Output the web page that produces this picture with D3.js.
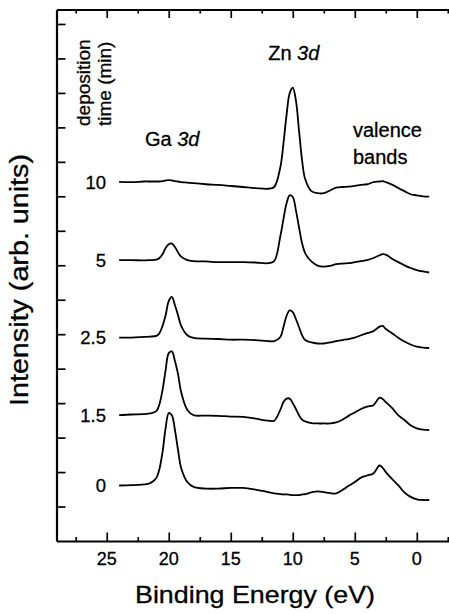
<!DOCTYPE html>
<html>
<head>
<meta charset="utf-8">
<script src="https://cdnjs.cloudflare.com/ajax/libs/d3/7.8.5/d3.min.js"></script>
<style>
	body{margin:0;background:#fff;}
	svg{display:block;font-family:"Liberation Sans",Arial,Helvetica,sans-serif;}
	svg text{fill:#000;stroke:#000;stroke-width:0.3px;}
</style>
</head>
<body>
<div id="chart"></div>
<script>
// binding energy grid (eV) shared by all spectra
var energies=[24,23,22,21.5,21,20.75,20.5,20.25,20,19.75,19.5,19.25,19,18.5,18,17,16,15,14,13,
	12,11.5,11,10.75,10.5,10.25,10,9.75,9.5,9.25,9,8.5,8,7.5,7,6.5,6,5.5,5,4.5,4,3.5,3,2.75,2.5,2,1.5,1,0.5,0,-0.5,-1]

// intensities (arb. units, already stacked) per deposition time
var time0=[1.61,1.62,1.64,1.68,1.83,2.09,2.58,3.28,3.71,3.65,3.22,2.64,2.12,1.71,1.57,1.52,1.52,1.54,1.54,1.49,
	1.42,1.38,1.36,1.35,1.35,1.34,1.33,1.33,1.33,1.35,1.36,1.41,1.44,1.42,1.39,1.38,1.48,1.60,1.71,1.84,
	1.90,1.96,2.19,2.12,2.00,1.80,1.62,1.41,1.28,1.21,1.19,1.19]
var time1_5=[3.65,3.67,3.68,3.70,3.77,3.97,4.38,4.96,5.45,5.50,5.22,4.84,4.32,3.80,3.65,3.64,3.63,3.61,3.60,3.55,
	3.49,3.49,3.81,4.03,4.13,4.13,4.00,3.83,3.65,3.52,3.47,3.42,3.41,3.41,3.41,3.44,3.52,3.63,3.73,3.83,
	3.90,3.94,4.16,4.12,4.03,3.86,3.65,3.51,3.36,3.27,3.23,3.22]
var time2_5=[5.90,5.90,5.92,5.93,5.95,6.03,6.24,6.55,6.96,7.08,6.84,6.55,6.24,5.97,5.89,5.87,5.86,5.84,5.84,5.83,
	5.80,5.80,5.92,6.21,6.53,6.69,6.64,6.44,6.21,5.97,5.83,5.76,5.73,5.73,5.76,5.80,5.83,5.86,5.90,5.97,
	6.03,6.09,6.22,6.24,6.15,6.03,5.90,5.79,5.70,5.64,5.61,5.60]
var time5=[8.15,8.15,8.14,8.15,8.16,8.21,8.32,8.50,8.61,8.63,8.53,8.37,8.25,8.15,8.12,8.11,8.09,8.09,8.09,8.08,
	8.06,8.12,8.85,9.34,9.80,10.03,9.98,9.60,9.11,8.64,8.35,8.11,7.99,7.96,7.98,8.03,8.05,8.06,8.09,8.12,
	8.15,8.21,8.29,8.32,8.31,8.19,8.09,8.00,7.92,7.86,7.82,7.79]
var time10=[10.42,10.41,10.43,10.43,10.43,10.43,10.44,10.46,10.47,10.46,10.44,10.43,10.41,10.40,10.38,10.35,10.33,10.30,10.27,10.24,
	10.22,10.27,10.85,11.54,12.36,12.99,13.15,12.79,11.92,11.05,10.50,10.15,10.09,10.09,10.17,10.25,10.27,10.28,10.30,10.33,
	10.35,10.41,10.43,10.44,10.41,10.34,10.24,10.15,10.06,10.03,10.00,9.99]

var seriesLabels=['0','1.5','2.5','5','10']
var xTicks=[25,20,15,10,5,0]
var xMinorTicks=[27.5,22.5,17.5,12.5,7.5,2.5,-2.5]
var yTicks=[1,2,3,4,5,6,7,8,9,10,11,12,13,14,15]

var chart={
	dimens:{width:449,height:614,left:56.5,top:9.5,bottom:541,right:454},
	draw:function(){
		var dm=chart.dimens
		var series=[time0,time1_5,time2_5,time5,time10]

		var svg=d3.select('#chart').append('svg')
			.attr('width',dm.width)
			.attr('height',dm.height)

		// reversed energy axis, like XPS plots
		var x=d3.scaleLinear().domain([29.05,-3]).range([dm.left,dm.right])
		var y=d3.scaleLinear().domain([0,15.42]).range([dm.bottom,dm.top])

		function styleAxis(g,keepDomain){
			g.selectAll('.tick line').attr('stroke','#000').attr('stroke-width',1.7)
			g.selectAll('.tick text').remove()
			if(keepDomain)
				g.select('.domain').attr('stroke','#000').attr('stroke-width',2.2)
			else
				g.select('.domain').remove()
		}

		// bottom axis, major + minor ticks pointing inward
		svg.append('g').attr('transform','translate(0,'+dm.bottom+')')
			.call(d3.axisBottom(x).tickValues(xTicks).tickSizeInner(-8.5).tickSizeOuter(0))
			.call(function(g){styleAxis(g,true)})
		svg.append('g').attr('transform','translate(0,'+dm.bottom+')')
			.call(d3.axisBottom(x).tickValues(xMinorTicks).tickSizeInner(-4).tickSizeOuter(0))
			.call(function(g){styleAxis(g,false)})
		// top axis
		svg.append('g').attr('transform','translate(0,'+dm.top+')')
			.call(d3.axisTop(x).tickValues(xTicks).tickSizeInner(-8.5).tickSizeOuter(0))
			.call(function(g){styleAxis(g,true)})
		svg.append('g').attr('transform','translate(0,'+dm.top+')')
			.call(d3.axisTop(x).tickValues(xMinorTicks).tickSizeInner(-4).tickSizeOuter(0))
			.call(function(g){styleAxis(g,false)})
		// left axis
		svg.append('g').attr('transform','translate('+dm.left+',0)')
			.call(d3.axisLeft(y).tickValues(yTicks).tickSizeInner(-9).tickSizeOuter(0))
			.call(function(g){styleAxis(g,true)})

		// tick labels
		svg.append('g').selectAll('text').data(xTicks).enter().append('text')
			.attr('x',function(d){return x(d)})
			.attr('y',565)
			.attr('text-anchor','middle')
			.attr('font-size',18)
			.text(function(d){return d})

		svg.append('text')
			.attr('x',255).attr('y',603)
			.attr('text-anchor','middle')
			.attr('font-size',24)
			.attr('textLength',240).attr('lengthAdjust','spacingAndGlyphs')
			.text('Binding Energy (eV)')

		svg.append('text')
			.attr('transform','translate(28,280) rotate(-90)')
			.attr('text-anchor','middle')
			.attr('font-size',25)
			.attr('textLength',252).attr('lengthAdjust','spacingAndGlyphs')
			.text('Intensity (arb. units)')

		// spectra
		var line=d3.line()
			.x(function(d,i){return x(energies[i])})
			.y(function(d){return y(d)})
			.curve(d3.curveCatmullRom.alpha(0.5))

		svg.append('g').selectAll('path').data(series).enter().append('path')
			.attr('d',line)
			.attr('fill','none')
			.attr('stroke','#000')
			.attr('stroke-width',1.8)
			.attr('stroke-linejoin','round')

		svg.append('g').selectAll('text').data(series).enter().append('text')
			.attr('x',106)
			.attr('y',function(d){return y(d[0])})
			.attr('dy','0.36em')
			.attr('text-anchor','end')
			.attr('font-size',18.5)
			.text(function(d,i){return seriesLabels[i]})

		// annotations
		var legend=svg.append('g').attr('font-size',19)
		legend.append('text')
			.attr('transform','translate(90,126) rotate(-90)')
			.text('deposition')
		legend.append('text')
			.attr('transform','translate(111,126) rotate(-90)')
			.text('time (min)')

		var ga=svg.append('text').attr('x',145).attr('y',146).attr('font-size',20)
		ga.append('tspan').text('Ga ')
		ga.append('tspan').attr('font-style','italic').text('3d')

		var zn=svg.append('text').attr('x',x(10)+1).attr('y',60).attr('text-anchor','middle').attr('font-size',20)
		zn.append('tspan').text('Zn ')
		zn.append('tspan').attr('font-style','italic').text('3d')

		svg.append('text').attr('x',353).attr('y',136.5).attr('font-size',20).text('valence')
		svg.append('text').attr('x',353).attr('y',164).attr('font-size',20).text('bands')
	}
}
chart.draw()
</script>
</body>
</html>
